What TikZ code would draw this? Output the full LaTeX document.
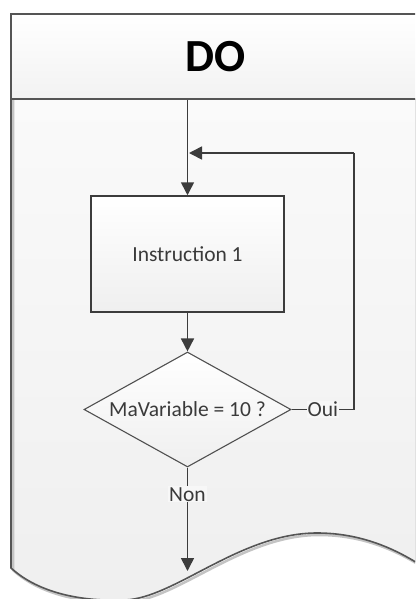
\documentclass[tikz,border=0pt]{standalone}
\usepackage{fontspec}
\setmainfont{Carlito}
\usetikzlibrary{arrows.meta,shapes.geometric}
\definecolor{linegray}{HTML}{3C3C3C}
\definecolor{framegray}{HTML}{555555}
\definecolor{txtgray}{HTML}{3A3A3A}
\definecolor{bodytop}{HTML}{FAFAFA}
\definecolor{bodybot}{HTML}{EFEFEF}
\begin{document}
\begin{tikzpicture}[x=1pt,y=-1pt,
  arr/.style={draw=linegray,line width=1.6pt,-{Triangle[length=13pt,width=13pt]}},
  conn/.style={draw=linegray,line width=1.6pt},
  procbox/.style={rectangle,draw=linegray,line width=1.5pt,top color=white,bottom color=bodybot,
    minimum width=193pt,minimum height=116pt,inner sep=0pt,text=txtgray,font=\fontsize{21.5}{24}\selectfont},
  decbox/.style={diamond,draw=linegray!90,line width=1.1pt,top color=white,bottom color=bodybot,
    minimum width=207pt,minimum height=115pt,inner sep=0pt,shape aspect=1.8,text=txtgray,font=\fontsize{21.5}{24}\selectfont},
  hdrbox/.style={rectangle,draw=framegray,line width=1.6pt,top color=white,bottom color=bodybot!80!white,
    minimum width=409pt,minimum height=85pt,inner sep=0pt,font=\fontsize{46}{50}\selectfont\bfseries},
  lbl/.style={fill=bodybot!50!white,inner sep=1pt,text=txtgray,font=\fontsize{21.5}{24}\selectfont}]
\useasboundingbox (0,0) rectangle (415,599);
\clip (0,0) rectangle (415,599);
\fill[white] (0,0) rectangle (415,599);
% body
\fill[top color=bodytop,bottom color=bodybot] (11,99) -- (11,568) .. controls (35,590) and (75,602) .. (125,600)
  .. controls (175,598) and (240,533) .. (317,533) .. controls (360,533) and (395,548) .. (425,568) -- (425,99) -- cycle;
\draw[framegray!35,line width=2.5pt] (13,99) -- (13,570) .. controls (37,592) and (77,604) .. (127,602)
  .. controls (177,600) and (242,535) .. (319,535) .. controls (362,535) and (397,550) .. (427,570);
\draw[framegray,line width=1.6pt] (11,99) -- (11,568) .. controls (35,590) and (75,602) .. (125,600)
  .. controls (175,598) and (240,533) .. (317,533) .. controls (360,533) and (395,548) .. (425,568);
% header
\node[hdrbox] (hdr) at (215.5,56.5) {DO};
% nodes
\node[procbox] (box) at (187.5,254) {Instruction 1};
\node[decbox] (dia) at (187.5,409.5) {MaVariable = 10 ?};
\coordinate (loopin) at (189,153);
\coordinate (loopcorner) at (354,153);
\coordinate (ouiend) at (354,409.5);
\coordinate (nonend) at (187.5,571);
% connectors
\draw[arr] (hdr.south -| box.north) -- (box.north);
\draw[arr] (box.south) -- (dia.north);
\draw[conn] (dia.east) -- node[lbl] {Oui} (ouiend) -- (loopcorner);
\draw[arr] (loopcorner) -- (loopin);
\draw[arr] (dia.south) -- node[lbl,pos=0.26] {Non} (nonend);
\end{tikzpicture}
\end{document}
